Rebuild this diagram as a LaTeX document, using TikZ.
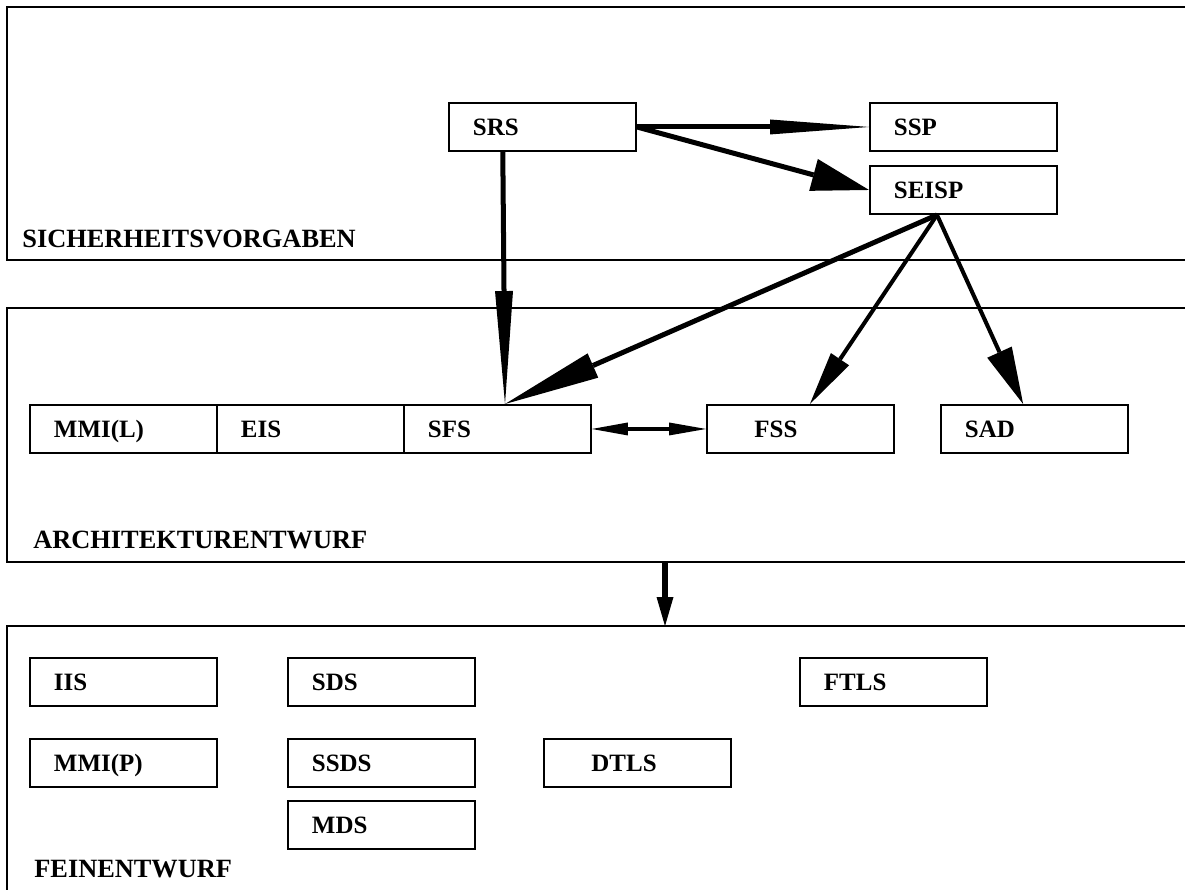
\documentclass[tikz,border=0pt]{standalone}
\usepackage{fontspec}
\setmainfont{Liberation Serif}
\usetikzlibrary{arrows.meta,calc}

\begin{document}
\begin{tikzpicture}[x=0.02cm,y=-0.02cm,
  every node/.style={font=\fontsize{14.2}{17}\selectfont\bfseries, text height=9.4pt, text depth=0pt},
  box/.style={draw, line width=1.1pt, anchor=north west, minimum height=0.96cm,
              inner ysep=0pt, inner xsep=0.48cm, text width=2.78cm, align=left},
  widebox/.style={box, inner xsep=0.95cm, text width=1.84cm},
  panel/.style={line width=1.3pt},
  levellabel/.style={anchor=west, inner sep=0pt, font=\fontsize{15}{18}\selectfont\bfseries, text height=9.9pt},
  head/.style 2 args={Triangle[length=#1, width=#2, line width=0pt]},
  flow/.style 2 args={line width=2.85pt, -{Triangle[length=#1, width=#2, line width=0pt]}},
  thinflow/.style 2 args={line width=2.3pt, -{Triangle[length=#1, width=#2, line width=0pt]}}
]
\useasboundingbox (0,0) rectangle (1185,890);

% three levels, open towards the right
\draw[panel] (1185,7) -- (7,7) -- (7,260) -- (1185,260);
\draw[panel] (1185,308) -- (7,308) -- (7,562) -- (1185,562);
\draw[panel] (1185,626) -- (7,626) -- (7,890);

\node[levellabel] (sich) at (22,239) {SICHERHEITSVORGABEN};
\node[levellabel] (arch) at (33,540) {ARCHITEKTURENTWURF};
\node[levellabel] (fein) at (34,869) {FEINENTWURF};

% security targets
\node[box] (srs)   at (448,102) {SRS};
\node[box] (ssp)   at (869,102) {SSP};
\node[box] (seisp) at (869,165) {SEISP};

% architecture
\node[box]     (mmil) at (29,404)  {MMI(L)};
\node[box]     (eis)  at (216,404) {EIS};
\node[box]     (sfs)  at (403,404) {SFS};
\node[widebox] (fss)  at (706,404) {FSS};
\node[box]     (sad)  at (940,404) {SAD};

% detailed design
\node[box]     (iis)  at (29,657)  {IIS};
\node[box]     (sds)  at (287,657) {SDS};
\node[box]     (ftls) at (799,657) {FTLS};
\node[box]     (mmip) at (29,738)  {MMI(P)};
\node[box]     (ssds) at (287,738) {SSDS};
\node[widebox] (dtls) at (543,738) {DTLS};
\node[box]     (mds)  at (287,800) {MDS};

% attachment points
\coordinate (srsfoot)   at ($(srs.south west)!0.29!(srs.south east)$);
\coordinate (seispfoot) at ($(seisp.south west)!0.36!(seisp.south east)$);
\coordinate (sfstop)    at ($(sfs.north west)!0.54!(sfs.north east)$);
\coordinate (fsstop)    at ($(fss.north west)!0.55!(fss.north east)$);
\coordinate (sadtop)    at ($(sad.north west)!0.44!(sad.north east)$);
\coordinate (archbottom) at (665,562);
\coordinate (feintop)    at (665,626);

% connectors
\draw[flow={1.98cm}{0.30cm}] (srs.east) -- (ssp.west);
\draw[flow={1.15cm}{0.66cm}] (srs.east) -- (seisp.west);
\draw[flow={2.26cm}{0.36cm}] (srsfoot) -- (sfstop);
\draw[flow={1.92cm}{0.53cm}] (seispfoot) -- (sfstop);
\draw[thinflow={1.08cm}{0.44cm}] (seispfoot) -- (fsstop);
\draw[thinflow={1.14cm}{0.54cm}] (seispfoot) -- (sadtop);
\draw[line width=2.6pt, {Triangle[length=0.72cm, width=0.26cm, line width=0pt]}-{Triangle[length=0.74cm, width=0.26cm, line width=0pt]}]
  (sfs.east) -- (fss.west);
\draw[line width=3.2pt, -{Triangle[length=0.58cm, width=0.34cm, line width=0pt]}] (archbottom) -- (feintop);
\end{tikzpicture}
\end{document}
